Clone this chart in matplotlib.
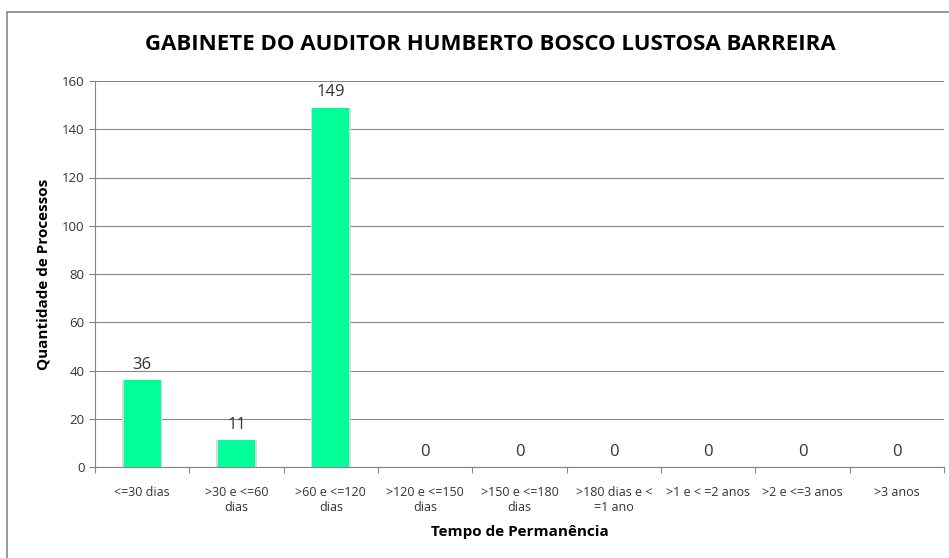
import matplotlib
matplotlib.use("Agg")
import matplotlib.pyplot as plt
from matplotlib.patches import Rectangle

categorias = ["<=30 dias", ">30 e <=60\ndias", ">60 e <=120\ndias", ">120 e <=150\ndias",
              ">150 e <=180\ndias", ">180 dias e <\n=1 ano", ">1 e < =2 anos",
              ">2 e <=3 anos", ">3 anos"]
quantidades = [36, 11, 149, 0, 0, 0, 0, 0, 0]
yticks = [0, 20, 40, 60, 80, 100, 120, 140, 160]

plt.rcParams["font.family"] = ["Open Sans", "DejaVu Sans"]

W, H = 949, 558
fig = plt.figure(figsize=(W / 100, H / 100), dpi=100)
ax = fig.add_axes([95 / W, 1 - 467 / H, (944 - 95) / W, (467 - 81) / H])

# moldura externa do gráfico
fig.patches.append(Rectangle((7 / W, -0.01), 1.0, 1 - 12 / H + 0.01, transform=fig.transFigure,
                             fill=False, edgecolor="#868686", linewidth=1.2))

x = range(len(categorias))
# sombra leve atrás das barras
ax.bar(x, quantidades, width=0.43, color="#d9d9d9", zorder=2)
ax.bar(x, quantidades, width=0.39, color="#00FF99", zorder=3)

for i, v in zip(x, quantidades):
    ax.text(i, v + 3, str(v), ha="center", va="bottom", fontsize=12, color="#333333")

ax.set_xlim(-0.5, len(categorias) - 0.5)
ax.set_ylim(0, 160)
ax.set_yticks(yticks)
ax.tick_params(axis="y", labelsize=9.5, colors="#333333", length=4, color="#868686")
ax.set_xticks([i + 0.5 for i in range(-1, len(categorias))], minor=False)
ax.set_xticklabels([""] * (len(categorias) + 1))
ax.tick_params(axis="x", length=4, color="#868686")
ax.set_xticks(list(x), minor=True)
ax.set_xticklabels(categorias, minor=True, fontsize=9, color="#333333", linespacing=1.15)
ax.tick_params(axis="x", which="minor", length=0, pad=14)

ax.grid(axis="y", color="#868686", linewidth=0.8, zorder=0)
for s in ["top", "right"]:
    ax.spines[s].set_visible(False)
ax.spines["left"].set_color("#868686")
ax.spines["bottom"].set_color("#868686")

ax.set_ylabel("Quantidade de Processos", fontsize=11, fontweight="bold", labelpad=8)
ax.set_xlabel("Tempo de Permanência", fontsize=11, fontweight="bold", labelpad=8)
fig.text(490 / W, 1 - 45 / H, "GABINETE DO AUDITOR HUMBERTO BOSCO LUSTOSA BARREIRA",
         ha="center", va="center", fontsize=16, fontweight="bold")

fig.savefig("out.png", dpi=100)
